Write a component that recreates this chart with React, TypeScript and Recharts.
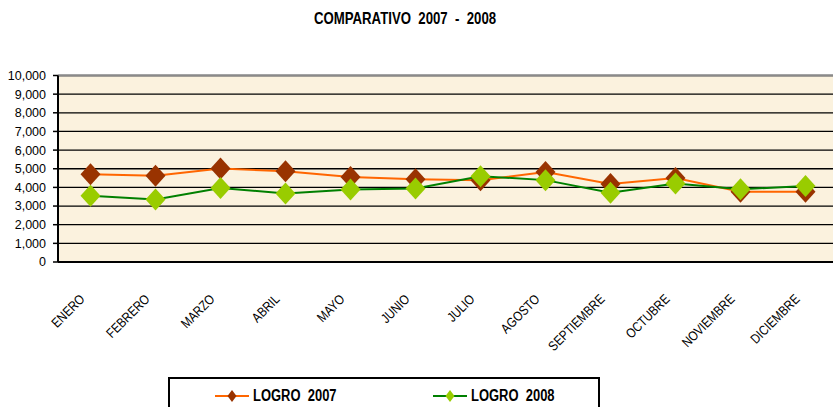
import React from 'react';
import { LineChart, Line, XAxis, YAxis, CartesianGrid, ReferenceLine } from 'recharts';

const MESES = ['ENERO', 'FEBRERO', 'MARZO', 'ABRIL', 'MAYO', 'JUNIO', 'JULIO', 'AGOSTO', 'SEPTIEMBRE', 'OCTUBRE', 'NOVIEMBRE', 'DICIEMBRE'];
const LOGRO_2007 = [4710, 4620, 5010, 4860, 4560, 4440, 4390, 4820, 4180, 4500, 3770, 3770];
const LOGRO_2008 = [3550, 3350, 3970, 3670, 3890, 3940, 4600, 4390, 3710, 4210, 3900, 4070];
const Y_TICKS = [0, 1000, 2000, 3000, 4000, 5000, 6000, 7000, 8000, 9000, 10000];
const BOUNDS = [0, 1, 2, 3, 4, 5, 6, 7, 8, 9, 10, 11, 12];

const data = MESES.map((mes, i) => ({ mes, y2007: LOGRO_2007[i], y2008: LOGRO_2008[i] }));

const SANS = "'Liberation Sans', Arial, sans-serif";
const NARROW_SCALE = 0.81;

const Diamond = (fill: string) => (props: any) => {
  const { cx, cy, index } = props;
  if (cx == null || cy == null) return <g key={index} />;
  const pts = `${cx},${cy - 11} ${cx + 10},${cy} ${cx},${cy + 11} ${cx - 10},${cy}`;
  return <polygon key={index} points={pts} fill={fill} stroke="none" />;
};

const MonthTick = (props: any) => {
  const { x, y, payload } = props;
  const ax = x - 5;
  const ay = y;
  return (
    <g transform={`translate(${ax}, ${ay}) rotate(-45) scale(0.84, 1)`}>
      <text x={0} y={0} textAnchor="end" fontFamily={SANS} fontSize={13.5} fill="#000">
        {payload.value}
      </text>
    </g>
  );
};

const LegendItem = ({ line, fill, label }: { line: string; fill: string; label: string }) => (
  <div style={{ display: 'flex', alignItems: 'center' }}>
    <svg width={34} height={14} style={{ display: 'block' }}>
      <line x1={0} y1={7} x2={34} y2={7} stroke={line} strokeWidth={2} />
      <polygon points="17,1 21.5,7 17,13 12.5,7" fill={fill} />
    </svg>
    <span
      style={{
        fontFamily: SANS,
        fontWeight: 'bold',
        fontSize: 16,
        marginLeft: 4,
        whiteSpace: 'pre',
        color: '#000',
        lineHeight: '16px',
        display: 'inline-block',
        transform: `scaleX(${NARROW_SCALE})`,
        transformOrigin: 'left center',
      }}
    >
      {label}
    </span>
  </div>
);

export default function App() {
  return (
    <div
      style={{
        position: 'absolute',
        left: 0,
        top: 0,
        width: 833,
        height: 407,
        overflow: 'hidden',
        background: '#fff',
      }}
    >
      <div
        style={{
          position: 'absolute',
          left: 0,
          width: 810,
          top: 8,
          textAlign: 'center',
          fontFamily: SANS,
          fontWeight: 'bold',
          fontSize: 16.5,
          whiteSpace: 'pre',
          lineHeight: '20px',
          color: '#000',
          transform: 'scaleX(0.8)',
          transformOrigin: 'center center',
        }}
      >
        {'COMPARATIVO  2007  -  2008'}
      </div>
      <div style={{ position: 'absolute', left: 0, top: 0 }}>
        <LineChart width={850} height={407} data={data} margin={{ top: 75.5, right: 12, left: 0, bottom: 0 }}>
          <CartesianGrid vertical={false} stroke="#000" strokeWidth={1.3} fill="#FBF2DE" fillOpacity={1} />
          <XAxis xAxisId="cat" dataKey="mes" hide padding={{ left: 32.5, right: 32.5 }} />
          <XAxis
            xAxisId="bounds"
            type="number"
            domain={[0, 12]}
            ticks={BOUNDS}
            allowDataOverflow
            tick={false}
            tickSize={5}
            height={8}
            axisLine={{ stroke: '#000', strokeWidth: 2 }}
            tickLine={{ stroke: '#000', strokeWidth: 1.5 }}
          />
          <XAxis
            xAxisId="lab"
            dataKey="mes"
            padding={{ left: 32.5, right: 32.5 }}
            axisLine={false}
            tickLine={false}
            tickSize={0}
            tickMargin={0}
            height={137}
            interval={0}
            tick={<MonthTick />}
          />
          <YAxis
            domain={[0, 10000]}
            ticks={Y_TICKS}
            interval={0}
            width={58}
            tickSize={5}
            tickMargin={7}
            tickFormatter={(v: number) => v.toLocaleString('en-US')}
            tick={{ fill: '#000', fontSize: 12.5, fontFamily: SANS }}
            axisLine={{ stroke: '#000', strokeWidth: 2 }}
            tickLine={{ stroke: '#000', strokeWidth: 1.5 }}
          />
          <ReferenceLine xAxisId="cat" y={10000} stroke="#8a8a8a" strokeWidth={2} />
          <Line
            xAxisId="cat"
            dataKey="y2007"
            stroke="#FF6600"
            strokeWidth={2}
            dot={Diamond('#993300')}
            activeDot={false}
            isAnimationActive={false}
          />
          <Line
            xAxisId="cat"
            dataKey="y2008"
            stroke="#008000"
            strokeWidth={2}
            dot={Diamond('#99CC00')}
            activeDot={false}
            isAnimationActive={false}
          />
        </LineChart>
      </div>
      <div
        style={{
          position: 'absolute',
          left: 168,
          top: 377,
          width: 428,
          height: 40,
          border: '2px solid #000',
          boxSizing: 'content-box',
        }}
      >
        <div style={{ position: 'absolute', left: 45, top: 9 }}>
          <LegendItem line="#FF6600" fill="#993300" label={'LOGRO  2007'} />
        </div>
        <div style={{ position: 'absolute', left: 263, top: 9 }}>
          <LegendItem line="#008000" fill="#99CC00" label={'LOGRO  2008'} />
        </div>
      </div>
    </div>
  );
}
